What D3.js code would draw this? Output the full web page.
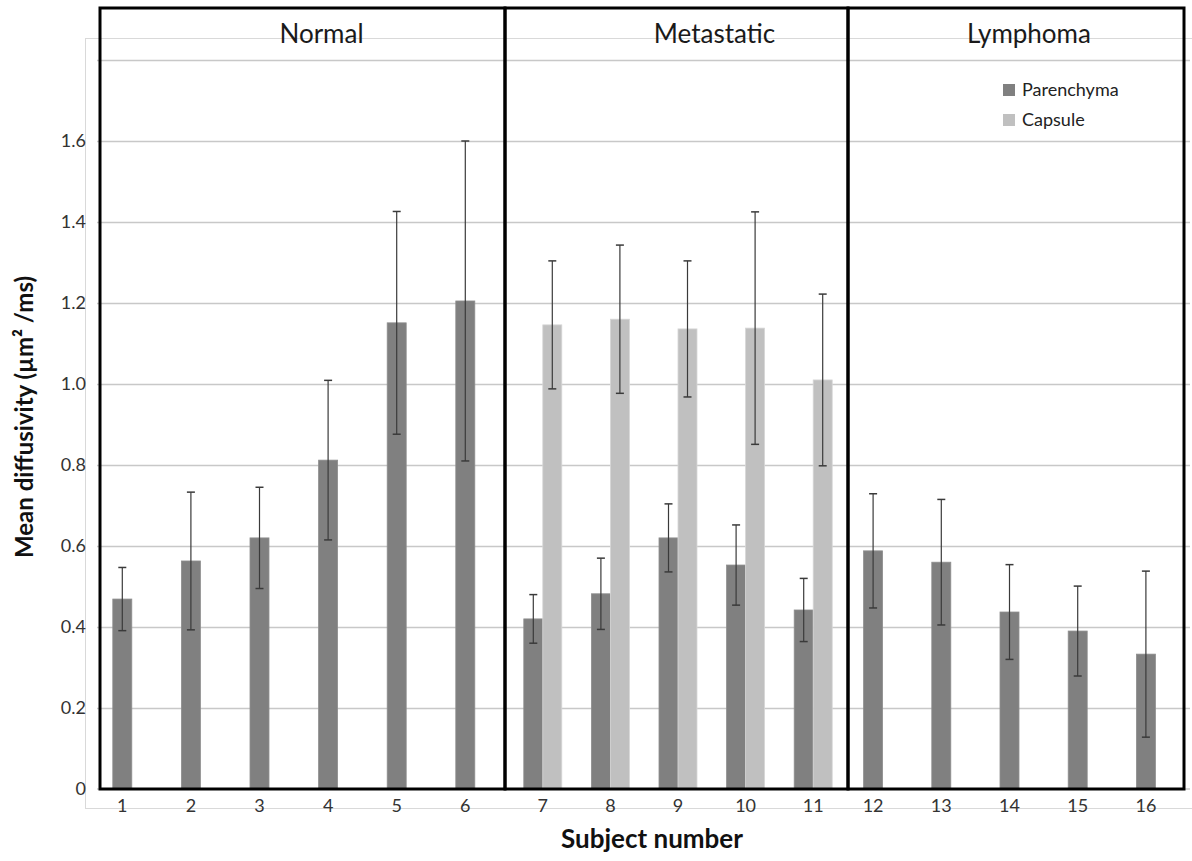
<!DOCTYPE html>
<html>
<head>
<meta charset="utf-8">
<script src="https://cdn.jsdelivr.net/npm/d3@7"></script>
<style>
body { margin: 0; background: #fff; }
svg { display: block; font-family: Lato, "Open Sans", sans-serif; }
</style>
</head>
<body>
<svg id="chart" width="1192" height="861"></svg>
<script>
// subjects and their groups
var subjects = [1, 2, 3, 4, 5, 6, 7, 8, 9, 10, 11, 12, 13, 14, 15, 16];
var groupNames = ["Normal", "Metastatic", "Lymphoma"];
var normalSubjects = [1, 2, 3, 4, 5, 6];
var metastaticSubjects = [7, 8, 9, 10, 11];
var lymphomaSubjects = [12, 13, 14, 15, 16];

// mean diffusivity (um^2/ms) and error bar half-length
var parenchyma = [0.469, 0.563, 0.620, 0.812, 1.151, 1.205, 0.420, 0.482, 0.620, 0.553, 0.442, 0.588, 0.560, 0.437, 0.390, 0.333];
var parenchymaErr = [0.078, 0.170, 0.125, 0.197, 0.275, 0.395, 0.060, 0.088, 0.084, 0.099, 0.078, 0.141, 0.155, 0.117, 0.111, 0.205];
var capsule = [null, null, null, null, null, null, 1.146, 1.160, 1.136, 1.138, 1.010, null, null, null, null, null];
var capsuleErr = [null, null, null, null, null, null, 0.158, 0.183, 0.168, 0.287, 0.212, null, null, null, null, null];

var yTicks = [0, 0.2, 0.4, 0.6, 0.8, 1.0, 1.2, 1.4, 1.6];
var yGrid = [0.2, 0.4, 0.6, 0.8, 1.0, 1.2, 1.4, 1.6, 1.8];
var seriesNames = ["Parenchyma", "Capsule"];
var seriesColors = ["#808080", "#c0c0c0"];

var svg = d3.select("#chart");

var plotLeft = 97, plotRight = 1190;
var y = d3.scaleLinear().domain([0, 1.8]).range([789, 60]);

// outer chart area border (light)
svg.append("rect")
    .attr("x", 85.5).attr("y", 38.5)
    .attr("width", 1110).attr("height", 770)
    .attr("fill", "none")
    .attr("stroke", "#d9d9d9");

// gridlines
svg.append("g")
    .attr("transform", "translate(" + plotLeft + ",0)")
    .call(d3.axisLeft(y).tickValues(yGrid).tickSize(-(plotRight - plotLeft)).tickFormat(""))
    .call(g => g.select(".domain").remove())
    .call(g => g.selectAll("line").attr("stroke", "#c8c8c8").attr("stroke-width", 1.3));

// x axis baseline
svg.append("line")
    .attr("x1", plotLeft).attr("x2", plotRight)
    .attr("y1", y(0)).attr("y2", y(0))
    .attr("stroke", "#c8c8c8").attr("stroke-width", 1.3);

// y tick labels
svg.append("g")
    .attr("transform", "translate(" + plotLeft + ",0)")
    .call(d3.axisLeft(y).tickValues(yTicks).tickSize(0).tickPadding(11)
        .tickFormat(d => d === 0 ? "0" : d3.format(".1f")(d)))
    .call(g => g.select(".domain").remove())
    .call(g => g.selectAll("text").attr("font-size", 18).attr("fill", "#333").attr("font-family", "Lato"));

// one band scale per group panel
var groups = [
    { name: groupNames[0], subs: normalSubjects, range: [88, 499.6], box: [100, 505], titleShift: 19 },
    { name: groupNames[1], subs: metastaticSubjects, range: [509, 847], box: [505, 848], titleShift: 38 },
    { name: groupNames[2], subs: lymphomaSubjects, range: [839, 1180], box: [848, 1184], titleShift: 13 }
];

var barW = 19;

groups.forEach(function (grp) {
    var x = d3.scaleBand().domain(grp.subs).range(grp.range);
    var hasCapsule = grp.subs.some(s => capsule[s - 1] != null);

    // x labels
    svg.append("g")
        .attr("transform", "translate(0," + y(0) + ")")
        .call(d3.axisBottom(x).tickSize(0).tickPadding(10))
        .call(g => g.select(".domain").remove())
        .call(g => g.selectAll("text").attr("font-size", 18).attr("fill", "#333").attr("font-family", "Lato"));

    var g = svg.append("g");
    grp.subs.forEach(function (s) {
        var i = s - 1;
        var cx = x(s) + x.bandwidth() / 2;
        var pX = hasCapsule ? cx - barW : cx - barW / 2;
        var bars = [{ v: parenchyma[i], e: parenchymaErr[i], x0: pX, c: seriesColors[0] }];
        if (capsule[i] != null)
            bars.push({ v: capsule[i], e: capsuleErr[i], x0: cx, c: seriesColors[1] });

        bars.forEach(function (b) {
            g.append("rect")
                .attr("x", b.x0).attr("y", y(b.v))
                .attr("width", barW).attr("height", y(0) - y(b.v))
                .attr("fill", b.c)
                .attr("stroke", d3.color(b.c).brighter(0.3))
                .attr("stroke-width", 0.8);
            var ex = b.x0 + barW / 2;
            g.append("line")
                .attr("x1", ex).attr("x2", ex)
                .attr("y1", y(b.v + b.e)).attr("y2", y(b.v - b.e))
                .attr("stroke", "#3a3a3a").attr("stroke-width", 1.2);
            [b.v + b.e, b.v - b.e].forEach(function (ev) {
                g.append("line")
                    .attr("x1", ex - 4).attr("x2", ex + 4)
                    .attr("y1", y(ev)).attr("y2", y(ev))
                    .attr("stroke", "#3a3a3a").attr("stroke-width", 1.5);
            });
        });
    });

    // panel box
    svg.append("rect")
        .attr("x", grp.box[0]).attr("y", 8)
        .attr("width", grp.box[1] - grp.box[0]).attr("height", y(0) - 8)
        .attr("fill", "none")
        .attr("stroke", "#000")
        .attr("stroke-width", 3);

    // panel title
    svg.append("text")
        .attr("x", (grp.box[0] + grp.box[1]) / 2 + grp.titleShift)
        .attr("y", 43)
        .attr("text-anchor", "middle")
        .attr("font-size", 26)
        .attr("fill", "#1a1a1a")
        .text(grp.name);
});

// legend
var legend = svg.append("g").attr("transform", "translate(1003,84)");
seriesNames.forEach(function (name, i) {
    legend.append("rect")
        .attr("x", 0).attr("y", i * 30)
        .attr("width", 12).attr("height", 12)
        .attr("fill", seriesColors[i]);
    legend.append("text")
        .attr("x", 19).attr("y", i * 30 + 12)
        .attr("font-size", 18)
        .attr("fill", "#222")
        .text(name);
});

// axis titles
svg.append("text")
    .attr("transform", "translate(33,417) rotate(-90)")
    .attr("text-anchor", "middle")
    .attr("font-size", 24)
    .attr("font-weight", "bold")
    .attr("fill", "#111")
    .text("Mean diffusivity (\u00b5m\u00b2 /ms)");

svg.append("text")
    .attr("x", 652).attr("y", 848)
    .attr("text-anchor", "middle")
    .attr("font-size", 26)
    .attr("font-weight", "bold")
    .attr("fill", "#111")
    .text("Subject number");
</script>
</body>
</html>
